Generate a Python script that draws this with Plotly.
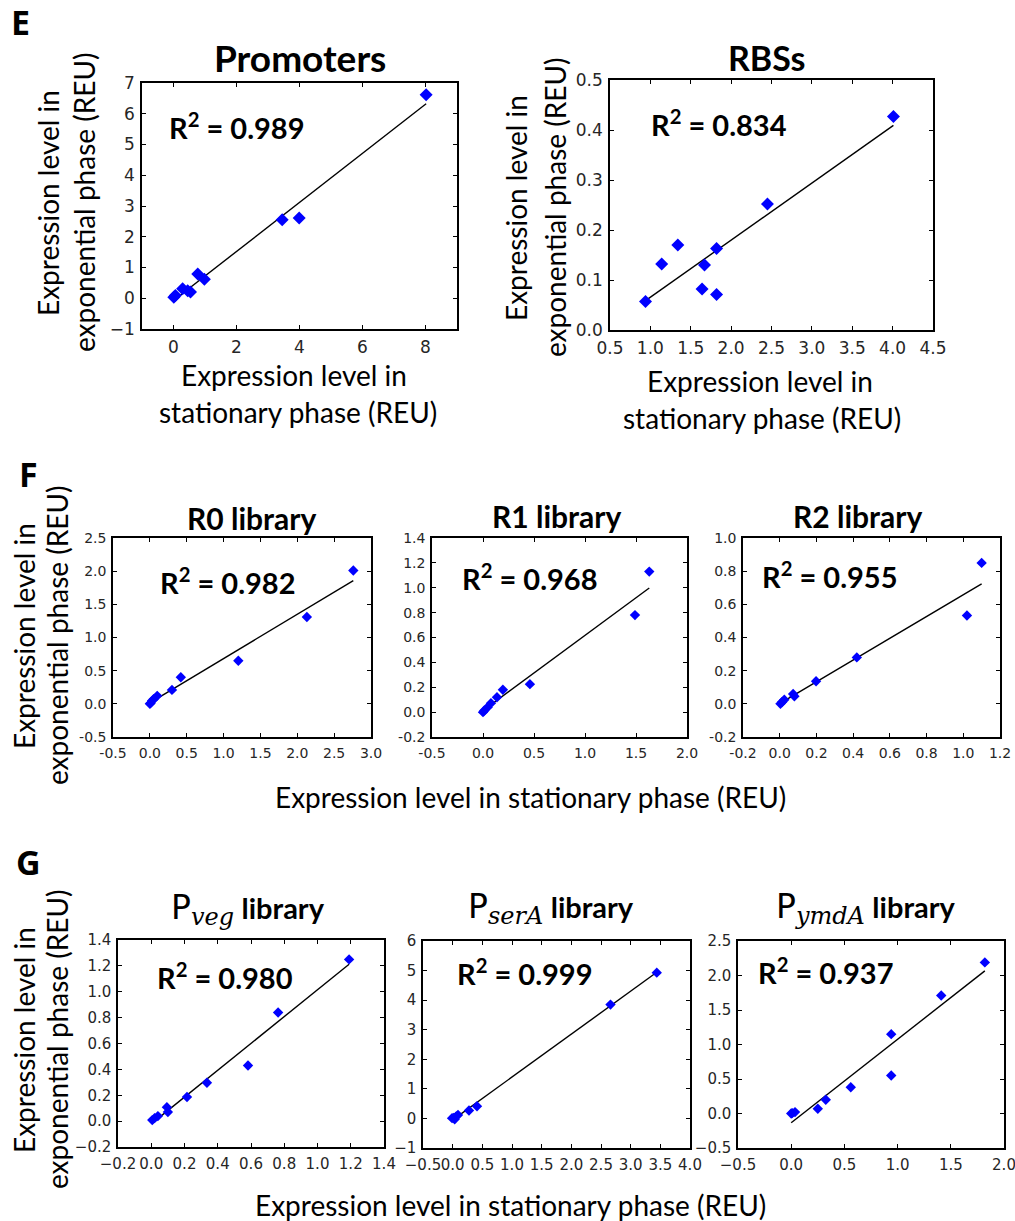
import numpy as np
import plotly.graph_objects as go

W, H = 1015, 1221

# ---------------- data ----------------
prom_x = [8.02, 3.45, 3.99, 0.77, 0.98, 0.29, 0.54, 0.45, 0.06, 0.01]
prom_y = [6.62, 2.55, 2.61, 0.79, 0.62, 0.31, 0.20, 0.24, 0.09, 0.03]

rbs_x = [4.01, 2.45, 1.82, 1.34, 1.14, 1.67, 1.64, 1.82, 0.94]
rbs_y = [0.427, 0.252, 0.163, 0.170, 0.132, 0.130, 0.082, 0.071, 0.057]

r0_x = [2.76, 2.13, 1.20, 0.42, 0.30, 0.10, 0.05, 0.03, 0.01, 0.00]
r0_y = [2.01, 1.31, 0.65, 0.40, 0.21, 0.12, 0.07, 0.045, 0.01, 0.00]

r1_x = [1.63, 1.49, 0.46, 0.195, 0.137, 0.078, 0.046, 0.013, 0.00]
r1_y = [1.13, 0.78, 0.225, 0.18, 0.12, 0.072, 0.04, 0.013, 0.00]

r2_x = [1.10, 1.02, 0.42, 0.198, 0.08, 0.073, 0.025, 0.013, 0.004]
r2_y = [0.85, 0.533, 0.28, 0.136, 0.045, 0.06, 0.025, 0.011, 0.00]

pveg_x = [1.19, 0.763, 0.582, 0.335, 0.215, 0.094, 0.10, 0.04, 0.02, 0.006]
pveg_y = [1.25, 0.84, 0.43, 0.297, 0.186, 0.108, 0.07, 0.039, 0.023, 0.008]

psera_x = [3.44, 2.66, 0.41, 0.275, 0.09, 0.06, 0.017, -0.01, 0.034]
psera_y = [4.93, 3.85, 0.41, 0.27, 0.12, 0.07, 0.02, 0.01, -0.03]

pymda_x = [1.82, 1.41, 0.94, 0.94, 0.56, 0.325, 0.25, 0.036, 0.01, 0.00]
pymda_y = [2.19, 1.71, 1.15, 0.55, 0.38, 0.20, 0.068, 0.02, 0.005, 0.00]

r2_labels = ["R<sup>2</sup> = 0.989", "R<sup>2</sup> = 0.834", "R<sup>2</sup> = 0.982",
             "R<sup>2</sup> = 0.968", "R<sup>2</sup> = 0.955", "R<sup>2</sup> = 0.980",
             "R<sup>2</sup> = 0.999", "R<sup>2</sup> = 0.937"]

prom_xticks = [0, 2, 4, 6, 8]
prom_xtext = ["0", "2", "4", "6", "8"]
prom_yticks = [-1, 0, 1, 2, 3, 4, 5, 6, 7]
prom_ytext = ["\u22121", "0", "1", "2", "3", "4", "5", "6", "7"]
rbs_xticks = [0.5, 1.0, 1.5, 2.0, 2.5, 3.0, 3.5, 4.0, 4.5]
rbs_xtext = ["0.5", "1.0", "1.5", "2.0", "2.5", "3.0", "3.5", "4.0", "4.5"]
rbs_yticks = [0.0, 0.1, 0.2, 0.3, 0.4, 0.5]
rbs_ytext = ["0.0", "0.1", "0.2", "0.3", "0.4", "0.5"]
r0_xticks = [-0.5, 0.0, 0.5, 1.0, 1.5, 2.0, 2.5, 3.0]
r0_xtext = ["-0.5", "0.0", "0.5", "1.0", "1.5", "2.0", "2.5", "3.0"]
r0_yticks = [-0.5, 0.0, 0.5, 1.0, 1.5, 2.0, 2.5]
r0_ytext = ["-0.5", "0.0", "0.5", "1.0", "1.5", "2.0", "2.5"]
r1_xticks = [-0.5, 0.0, 0.5, 1.0, 1.5, 2.0]
r1_xtext = ["-0.5", "0.0", "0.5", "1.0", "1.5", "2.0"]
r1_yticks = [-0.2, 0.0, 0.2, 0.4, 0.6, 0.8, 1.0, 1.2, 1.4]
r1_ytext = ["-0.2", "0.0", "0.2", "0.4", "0.6", "0.8", "1.0", "1.2", "1.4"]
r2_xticks = [-0.2, 0.0, 0.2, 0.4, 0.6, 0.8, 1.0, 1.2]
r2_xtext = ["-0.2", "0.0", "0.2", "0.4", "0.6", "0.8", "1.0", "1.2"]
r2_yticks = [-0.2, 0.0, 0.2, 0.4, 0.6, 0.8, 1.0]
r2_ytext = ["-0.2", "0.0", "0.2", "0.4", "0.6", "0.8", "1.0"]
pveg_xticks = [-0.2, 0.0, 0.2, 0.4, 0.6, 0.8, 1.0, 1.2, 1.4]
pveg_xtext = ["\u22120.2", "0.0", "0.2", "0.4", "0.6", "0.8", "1.0", "1.2", "1.4"]
pveg_yticks = [-0.2, 0.0, 0.2, 0.4, 0.6, 0.8, 1.0, 1.2, 1.4]
pveg_ytext = ["\u22120.2", "0.0", "0.2", "0.4", "0.6", "0.8", "1.0", "1.2", "1.4"]
psera_xticks = [-0.5, 0.0, 0.5, 1.0, 1.5, 2.0, 2.5, 3.0, 3.5, 4.0]
psera_xtext = ["\u22120.5", "0.0", "0.5", "1.0", "1.5", "2.0", "2.5", "3.0", "3.5", "4.0"]
psera_yticks = [-1, 0, 1, 2, 3, 4, 5, 6]
psera_ytext = ["\u22121", "0", "1", "2", "3", "4", "5", "6"]
pymda_xticks = [-0.5, 0.0, 0.5, 1.0, 1.5, 2.0]
pymda_xtext = ["\u22120.5", "0.0", "0.5", "1.0", "1.5", "2.0"]
pymda_yticks = [-0.5, 0.0, 0.5, 1.0, 1.5, 2.0, 2.5]
pymda_ytext = ["\u22120.5", "0.0", "0.5", "1.0", "1.5", "2.0", "2.5"]

# ---------------- layout helpers ----------------
LABEL_FONT = "Lato, 'Open Sans', sans-serif"
TICK_FONT = "DejaVu Sans, sans-serif"

def px(x):
    return x / W

def py(y):
    return 1 - y / H

panels = [
    dict(x=prom_x, y=prom_y, xr=[-1, 9], yr=[-1, 7], xt=(prom_xticks, prom_xtext),
         yt=(prom_yticks, prom_ytext), box=(142, 457, 83, 329), ms=10, tf=17,
         r2=(237, 126)),
    dict(x=rbs_x, y=rbs_y, xr=[0.5, 4.5], yr=[0, 0.5], xt=(rbs_xticks, rbs_xtext),
         yt=(rbs_yticks, rbs_ytext), box=(610, 933, 80, 330), ms=10, tf=17,
         r2=(719, 123)),
    dict(x=r0_x, y=r0_y, xr=[-0.5, 3.0], yr=[-0.5, 2.5], xt=(r0_xticks, r0_xtext),
         yt=(r0_yticks, r0_ytext), box=(113, 371, 538, 737), ms=8, tf=14,
         r2=(228, 581)),
    dict(x=r1_x, y=r1_y, xr=[-0.5, 2.0], yr=[-0.2, 1.4], xt=(r1_xticks, r1_xtext),
         yt=(r1_yticks, r1_ytext), box=(432, 687, 538, 737), ms=8, tf=14,
         r2=(530, 577)),
    dict(x=r2_x, y=r2_y, xr=[-0.2, 1.2], yr=[-0.2, 1.0], xt=(r2_xticks, r2_xtext),
         yt=(r2_yticks, r2_ytext), box=(743, 1000, 538, 737), ms=8, tf=14,
         r2=(830, 575)),
    dict(x=pveg_x, y=pveg_y, xr=[-0.2, 1.4], yr=[-0.2, 1.4], xt=(pveg_xticks, pveg_xtext),
         yt=(pveg_yticks, pveg_ytext), box=(118, 384, 940, 1147), ms=8, tf=15,
         r2=(225, 976)),
    dict(x=psera_x, y=psera_y, xr=[-0.5, 4.0], yr=[-1, 6], xt=(psera_xticks, psera_xtext),
         yt=(psera_yticks, psera_ytext), box=(423, 690, 941, 1148), ms=8, tf=15,
         r2=(525, 972)),
    dict(x=pymda_x, y=pymda_y, xr=[-0.5, 2.0], yr=[-0.5, 2.5], xt=(pymda_xticks, pymda_xtext),
         yt=(pymda_yticks, pymda_ytext), box=(738, 1004, 941, 1148), ms=8, tf=15,
         r2=(826, 971)),
]

fig = go.Figure()
annotations = []
layout_axes = {}

for i, p in enumerate(panels):
    n = i + 1
    xa = "x" if n == 1 else f"x{n}"
    ya = "y" if n == 1 else f"y{n}"
    xs = np.array(p["x"], dtype=float)
    ys = np.array(p["y"], dtype=float)
    slope, icpt = np.polyfit(xs, ys, 1)
    lx = np.array([xs.min(), xs.max()])
    fig.add_trace(go.Scatter(x=lx, y=slope * lx + icpt, mode="lines",
                             line=dict(color="black", width=1.4),
                             xaxis=xa, yaxis=ya, showlegend=False, hoverinfo="skip"))
    fig.add_trace(go.Scatter(x=xs, y=ys, mode="markers",
                             marker=dict(symbol="diamond", size=p["ms"], color="#0000ff",
                                         line=dict(width=0)),
                             xaxis=xa, yaxis=ya, showlegend=False))
    x0, x1, y0, y1 = p["box"]
    common = dict(showline=True, linecolor="black", linewidth=1.5, mirror="ticks",
                  ticks="inside", ticklen=4, tickcolor="black", tickwidth=1,
                  showgrid=False, zeroline=False, tickmode="array", tickangle=0,
                  automargin=False, ticklabelstandoff=2, ticklabeloverflow="allow",
                  tickfont=dict(family=TICK_FONT, size=p["tf"], color="#262626"))
    xk = "xaxis" if n == 1 else f"xaxis{n}"
    yk = "yaxis" if n == 1 else f"yaxis{n}"
    layout_axes[xk] = dict(domain=[px(x0), px(x1)], range=p["xr"], anchor=ya,
                           tickvals=p["xt"][0], ticktext=p["xt"][1], **common)
    layout_axes[yk] = dict(domain=[py(y1), py(y0)], range=p["yr"], anchor=xa,
                           tickvals=p["yt"][0], ticktext=p["yt"][1], **common)
    annotations.append(dict(text=f"<b>{r2_labels[i]}</b>", x=px(p["r2"][0]), y=py(p["r2"][1]),
                            xref="paper", yref="paper", showarrow=False,
                            xanchor="center", yanchor="middle",
                            font=dict(family=LABEL_FONT, size=29, color="black")))

def ann(text, x, y, size, angle=0, bold=False, family=LABEL_FONT):
    t = f"<b>{text}</b>" if bold else text
    annotations.append(dict(text=t, x=px(x), y=py(y), xref="paper", yref="paper",
                            showarrow=False, xanchor="center", yanchor="middle",
                            textangle=angle, font=dict(family=family, size=size, color="black")))

# panel letters
ann("E", 20, 22, 34, bold=True, family="'Open Sans', Lato, sans-serif")
ann("F", 28, 474, 34, bold=True, family="'Open Sans', Lato, sans-serif")
ann("G", 28, 862, 34, bold=True, family="'Open Sans', Lato, sans-serif")

# titles
ann("Promoters", 300, 58, 37, bold=True)
ann("RBSs", 766, 58, 34, bold=True)
ann("R0 library", 251, 518, 30, bold=True)
ann("R1 library", 556, 516, 30, bold=True)
ann("R2 library", 857, 516, 30, bold=True)

def ptitle(sub):
    return ("<span style=\"font-family:DejaVu Sans;font-size:33px\">P</span>"
            "<sub><span style=\"font-family:DejaVu Serif;font-size:24px\"><i>" + sub + "</i></span></sub>"
            " <b>library</b>")

ann(ptitle("veg"), 248, 910, 29)
ann(ptitle("serA"), 551, 908, 29)
ann(ptitle("ymdA"), 866, 908, 29)

# E axis labels
ann("Expression level in", 48, 203, 28, angle=-90)
ann("exponential phase (REU)", 84, 203, 28, angle=-90)
ann("Expression level in", 294, 375, 28)
ann("stationary phase (REU)", 298, 412, 28)
ann("Expression level in", 516, 208, 28, angle=-90)
ann("exponential phase (REU)", 555, 208, 28, angle=-90)
ann("Expression level in", 760, 381, 28)
ann("stationary phase (REU)", 762, 418, 28)

# F / G shared labels
ann("Expression level in", 24, 636, 28, angle=-90)
ann("exponential phase (REU)", 57, 636, 28, angle=-90)
ann("Expression level in stationary phase (REU)", 530, 797, 28)
ann("Expression level in", 24, 1040, 28, angle=-90)
ann("exponential phase (REU)", 57, 1040, 28, angle=-90)
ann("Expression level in stationary phase (REU)", 510, 1205, 28)

fig.update_layout(width=W, height=H, margin=dict(l=0, r=0, t=0, b=0),
                  paper_bgcolor="white", plot_bgcolor="white",
                  annotations=annotations, showlegend=False, **layout_axes)

fig.write_html("out.html", config={"displayModeBar": False},
               post_script="document.body.style.margin='0';document.body.style.overflow='hidden';")
